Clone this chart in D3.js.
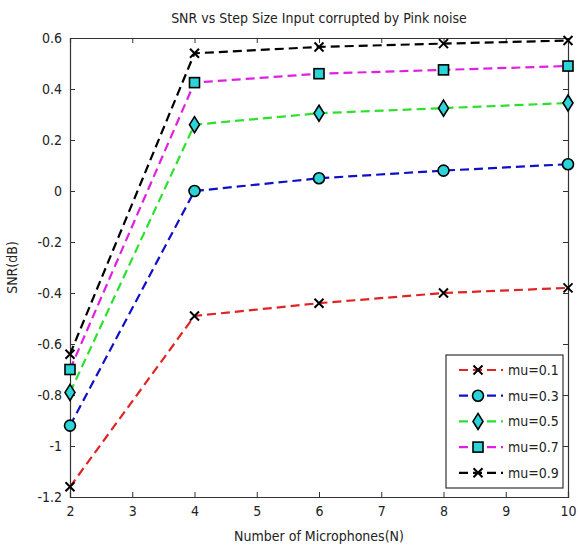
<!DOCTYPE html>
<html>
<head>
<meta charset="utf-8">
<script src="https://cdn.jsdelivr.net/npm/d3@7"></script>
<style>
body { margin: 0; background: #fff; }
text { font-family: "Liberation Sans Narrow", "DejaVu Sans Condensed", sans-serif; fill: #222; }
</style>
</head>
<body>
<div id="chart"></div>
<script>
var width = 578;
var height = 548;

var mics = [2, 4, 6, 8, 10];
var names = ["mu=0.1", "mu=0.3", "mu=0.5", "mu=0.7", "mu=0.9"];
var mu01 = [-1.16, -0.49, -0.44, -0.40, -0.38];
var mu03 = [-0.92, 0.00, 0.05, 0.08, 0.105];
var mu05 = [-0.79, 0.26, 0.305, 0.325, 0.345];
var mu07 = [-0.70, 0.425, 0.46, 0.475, 0.49];
var mu09 = [-0.64, 0.54, 0.565, 0.578, 0.59];
var xTicks = [2, 3, 4, 5, 6, 7, 8, 9, 10];
var yTicks = [-1.2, -1, -0.8, -0.6, -0.4, -0.2, 0, 0.2, 0.4, 0.6];

var series = [
    {name: names[0], values: mu01, color: "#e02424", marker: "x"},
    {name: names[1], values: mu03, color: "#1010c8", marker: "circle"},
    {name: names[2], values: mu05, color: "#2ee02e", marker: "diamond"},
    {name: names[3], values: mu07, color: "#e020e0", marker: "square"},
    {name: names[4], values: mu09, color: "#000000", marker: "x"}
];

var margin = {top: 38, right: 10, bottom: 51, left: 70};
var w = width - margin.left - margin.right;
var h = height - margin.top - margin.bottom;

var svg = d3.select("#chart")
    .append("svg")
    .attr("width", width)
    .attr("height", height);

var g = svg.append("g")
    .attr("transform", "translate(" + margin.left + "," + margin.top + ")");

var x = d3.scaleLinear().domain([2, 10]).range([0, w]);
var y = d3.scaleLinear().domain([-1.2, 0.6]).range([h, 0]);

function fmt(d) {
    return d3.format("")(+d.toFixed(1)).replace("−", "-");
}

// axes with inward ticks, matlab style box
g.append("g")
    .attr("transform", "translate(0," + h + ")")
    .call(d3.axisBottom(x).tickValues(xTicks).tickSize(-5).tickPadding(9).tickFormat(d3.format("d")));
g.append("g")
    .call(d3.axisTop(x).tickValues(xTicks).tickSize(-5).tickFormat(""));
g.append("g")
    .call(d3.axisLeft(y).tickValues(yTicks).tickSize(-5).tickPadding(8).tickFormat(fmt));
g.append("g")
    .attr("transform", "translate(" + w + ",0)")
    .call(d3.axisRight(y).tickValues(yTicks).tickSize(-5).tickFormat(""));

g.selectAll(".domain").attr("stroke", "#333").attr("stroke-width", 1.2);
g.selectAll(".tick line").attr("stroke", "#333");
g.selectAll(".tick text").style("font-size", "14px").attr("fill", "#222");

var line = d3.line()
    .x(function(d, i) { return x(mics[i]); })
    .y(function(d) { return y(d); });

function drawMarker(sel, type) {
    if (type === "x") {
        var s = 4.5;
        sel.append("path")
            .attr("d", "M" + (-s) + "," + (-s) + "L" + s + "," + s + "M" + (-s) + "," + s + "L" + s + "," + (-s))
            .attr("stroke", "#000").attr("stroke-width", 2).attr("fill", "none");
    } else if (type === "circle") {
        sel.append("circle").attr("r", 5.5)
            .attr("fill", "#2ad4d8").attr("stroke", "#000").attr("stroke-width", 1.6);
    } else if (type === "diamond") {
        sel.append("path")
            .attr("d", "M0,-8L5,0L0,8L-5,0Z")
            .attr("fill", "#2ad4d8").attr("stroke", "#000").attr("stroke-width", 1.6);
    } else if (type === "square") {
        sel.append("rect").attr("x", -5).attr("y", -5).attr("width", 10).attr("height", 10)
            .attr("fill", "#2ad4d8").attr("stroke", "#000").attr("stroke-width", 1.6);
    }
}

series.forEach(function(s) {
    g.append("path")
        .datum(s.values)
        .attr("d", line)
        .attr("fill", "none")
        .attr("stroke", s.color)
        .attr("stroke-width", 2.2)
        .attr("stroke-dasharray", "9,5");
    s.values.forEach(function(v, i) {
        var m = g.append("g").attr("transform", "translate(" + x(mics[i]) + "," + y(v) + ")");
        drawMarker(m, s.marker);
    });
});

// title and labels
svg.append("text")
    .attr("x", margin.left + w / 2)
    .attr("y", 23)
    .attr("text-anchor", "middle")
    .style("font-size", "14px")
    .text("SNR vs Step Size Input corrupted by Pink noise");

svg.append("text")
    .attr("x", margin.left + w / 2)
    .attr("y", 541)
    .attr("text-anchor", "middle")
    .style("font-size", "14px")
    .text("Number of Microphones(N)");

svg.append("text")
    .attr("transform", "translate(17," + (margin.top + h / 2) + ") rotate(-90)")
    .attr("text-anchor", "middle")
    .style("font-size", "14px")
    .text("SNR(dB)");

// legend
var lg = svg.append("g").attr("transform", "translate(446,355)");
lg.append("rect")
    .attr("width", 117).attr("height", 133)
    .attr("fill", "#fff").attr("stroke", "#333").attr("stroke-width", 1.2);
series.forEach(function(s, i) {
    var row = lg.append("g").attr("transform", "translate(0," + (15 + i * 25.7) + ")");
    row.append("line")
        .attr("x1", 13).attr("x2", 57)
        .attr("stroke", s.color).attr("stroke-width", 2.2)
        .attr("stroke-dasharray", "9,5");
    var m = row.append("g").attr("transform", "translate(32,0)");
    drawMarker(m, s.marker);
    row.append("text")
        .attr("x", 62).attr("y", 5)
        .style("font-size", "14px")
        .text(s.name);
});
</script>
</body>
</html>
